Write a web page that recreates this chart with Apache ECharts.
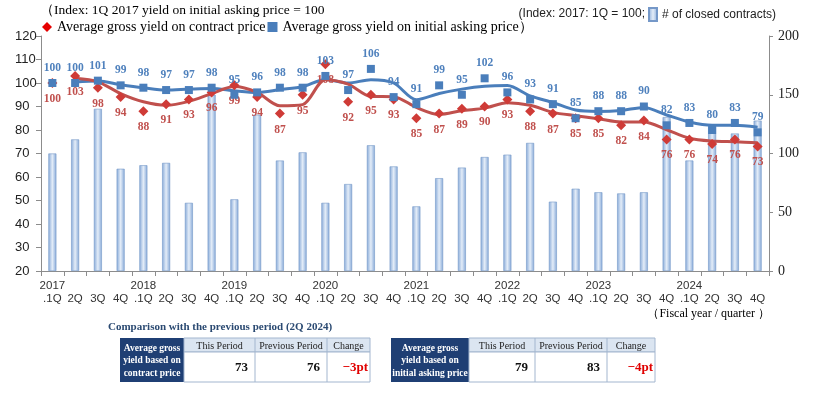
<!DOCTYPE html>
<html>
<head>
<meta charset="utf-8">
<script src="https://cdn.jsdelivr.net/npm/echarts@6/dist/echarts.min.js"></script>
<style>
  html, body { margin: 0; padding: 0; background: #fff; }
  #chart { width: 815px; height: 399px; }
</style>
</head>
<body>
<div id="chart"></div>
<script>
// quarters along the x axis (year shown on the 1Q tick only)
const categories = [
  '2017\n.1Q', '\n2Q', '\n3Q', '\n4Q',
  '2018\n.1Q', '\n2Q', '\n3Q', '\n4Q',
  '2019\n.1Q', '\n2Q', '\n3Q', '\n4Q',
  '2020\n.1Q', '\n2Q', '\n3Q', '\n4Q',
  '2021\n.1Q', '\n2Q', '\n3Q', '\n4Q',
  '2022\n.1Q', '\n2Q', '\n3Q', '\n4Q',
  '2023\n.1Q', '\n2Q', '\n3Q', '\n4Q',
  '2024\n.1Q', '\n2Q', '\n3Q', '\n4Q'
];

// # of closed contracts (right axis)
const closedContracts = [
  100, 112, 138, 87,
  90, 92, 58, 150,
  61, 133, 94, 101,
  58, 74, 107, 89,
  55, 79, 88, 97,
  99, 109, 59, 70,
  67, 66, 67, 131,
  94, 123, 117, 128
];

// index, yield on initial asking price (markers + labels)
const askingIndex = [
  100, 100, 101, 99,
  98, 97, 97, 98,
  95, 96, 98, 98,
  103, 97, 106, 94,
  91, 99, 95, 102,
  96, 93, 91, 85,
  88, 88, 90, 82,
  83, 80, 83, 79
];

// index, yield on contract price (markers + labels)
const contractIndex = [
  100, 103, 98, 94,
  88, 91, 93, 96,
  99, 94, 87, 95,
  108, 92, 95, 93,
  85, 87, 89, 90,
  93, 88, 87, 85,
  85, 82, 84, 76,
  76, 74, 76, 73
];

// trend lines
const askingTrend = [
  null, 100.4, 100.8, 99.3,
  98, 97, 97.4, 97.7,
  96.7, 96, 97.2, 98.4,
  101.5, 100, 101.4, 100,
  92.9, 95.5, 97.4, 98.6,
  98.9, 94.5, 91.7, 88.5,
  87.9, 88.3, 89.6, 86.4,
  83.4, 82, 82, 81.2
];
const contractTrend = [
  null, 102, 100.5, 95.5,
  92, 90.5, 92.2, 95.5,
  98.5, 96, 90.3, 90.8,
  101.4, 99.5, 94.3, 94.2,
  89.6, 86.6, 88.2, 89.3,
  91.6, 90.5, 87.5, 86.1,
  84.8, 83.4, 83.4, 80.1,
  76.5, 75.3, 75, 74.6
];

const leftTicks = [20, 120, 10];
const rightTicks = [0, 200, 50];

// comparison tables: this period, previous period, change (pt)
const tableHeaders = ['This Period', 'Previous Period', 'Change'];
const contractCompare = [73, 76, -3];
const askingCompare = [79, 83, -4];

const serif = '"Liberation Serif", "Times New Roman", serif';
const sans = '"Liberation Sans", Arial, sans-serif';

const NAME_CONTRACT = 'Average gross yield on contract price';
const NAME_ASKING = 'Average gross yield on initial asking price）';
const NAME_BARS = '# of closed contracts)';

const barFill = new echarts.graphic.LinearGradient(0, 0, 1, 0, [
  { offset: 0, color: '#86a9d8' },
  { offset: 0.5, color: '#e4edf8' },
  { offset: 1, color: '#86a9d8' }
]);

function compareTable(xs, title, values) {
  const top = 338, mid = 352, bottom = 382;
  const border = '#a3b6cf';
  const els = [
    { type: 'rect', shape: { x: xs[0], y: top, width: xs[1] - xs[0], height: bottom - top },
      style: { fill: '#1f3f74' } },
    { type: 'rect', shape: { x: xs[1], y: top, width: xs[4] - xs[1], height: mid - top },
      style: { fill: '#dbe5f1', stroke: border, lineWidth: 1 } },
    { type: 'rect', shape: { x: xs[1], y: mid, width: xs[4] - xs[1], height: bottom - mid },
      style: { fill: '#fff', stroke: border, lineWidth: 1 } },
    { type: 'text', x: (xs[0] + xs[1]) / 2, y: (top + bottom) / 2 + 1,
      style: { text: title, fill: '#fff', font: 'bold 9.5px ' + serif, align: 'center',
               verticalAlign: 'middle', lineHeight: 12.5 } }
  ];
  for (let i = 2; i <= 3; i++) {
    els.push({ type: 'line', shape: { x1: xs[i], y1: top, x2: xs[i], y2: bottom },
               style: { stroke: border, lineWidth: 1 } });
  }
  tableHeaders.forEach((h, i) => {
    els.push({ type: 'text', x: (xs[i + 1] + xs[i + 2]) / 2, y: (top + mid) / 2 + 1,
      style: { text: h, fill: '#222', font: '10px ' + serif, align: 'center', verticalAlign: 'middle' } });
  });
  values.forEach((v, i) => {
    const isChange = i === 2;
    const txt = isChange ? (v < 0 ? '−' : '+') + Math.abs(v) + 'pt' : String(v);
    els.push({ type: 'text', x: xs[i + 2] - (isChange ? 2 : 7), y: (mid + bottom) / 2 + 1,
      style: { text: txt, fill: isChange ? '#e00000' : '#111',
               font: 'bold 13px ' + serif, align: 'right', verticalAlign: 'middle' } });
  });
  return els;
}

const chart = echarts.init(document.getElementById('chart'), null, { renderer: 'canvas' });

chart.setOption({
  animation: false,
  backgroundColor: '#fff',
  grid: { left: 41, right: 46, top: 36, bottom: 128, containLabel: false },
  legend: [
    {
      left: 42, top: 20, itemWidth: 10, itemHeight: 10, itemGap: 2, padding: 0,
      textStyle: { fontFamily: serif, fontSize: 14, color: '#000' },
      data: [
        { name: NAME_CONTRACT, icon: 'diamond', itemStyle: { color: '#e60000' } },
        { name: NAME_ASKING, icon: 'rect', itemStyle: { color: '#4a7ebb' } }
      ]
    },
    {
      left: 648, top: 7, itemWidth: 8, itemHeight: 13, padding: 0,
      textStyle: { fontFamily: sans, fontSize: 12, color: '#222' },
      data: [{ name: NAME_BARS, icon: 'rect' }]
    }
  ],
  xAxis: {
    type: 'category',
    data: categories,
    boundaryGap: true,
    axisLine: { lineStyle: { color: '#8c8c8c', width: 1 } },
    axisTick: { show: true, length: 5, lineStyle: { color: '#8c8c8c' } },
    axisLabel: { interval: 0, margin: 8, fontFamily: sans, fontSize: 11.5,
                 lineHeight: 13, color: '#333', align: 'center' },
    splitLine: { show: false }
  },
  yAxis: [
    {
      type: 'value', min: leftTicks[0], max: leftTicks[1], interval: leftTicks[2],
      axisLine: { show: true, lineStyle: { color: '#8c8c8c' } },
      axisTick: { show: true, length: 5, lineStyle: { color: '#8c8c8c' } },
      axisLabel: { margin: 26, align: 'left', fontFamily: sans, fontSize: 13, color: '#222' },
      splitLine: { show: false }
    },
    {
      type: 'value', min: rightTicks[0], max: rightTicks[1], interval: rightTicks[2],
      position: 'right',
      axisLine: { show: true, lineStyle: { color: '#8c8c8c' } },
      axisTick: { show: true, length: 4, lineStyle: { color: '#8c8c8c' } },
      axisLabel: { margin: 9, fontFamily: serif, fontSize: 14, color: '#222' },
      splitLine: { show: false }
    }
  ],
  series: [
    {
      name: NAME_BARS, type: 'bar', yAxisIndex: 1, data: closedContracts, barWidth: 8, z: 1,
      itemStyle: { color: barFill, borderColor: '#7598c8', borderWidth: 0.6 }
    },
    {
      name: 'askingTrend', type: 'line', data: askingTrend, smooth: 0.3, showSymbol: false,
      symbol: 'none', z: 2, silent: true,
      lineStyle: { color: '#4a7ebb', width: 3 }
    },
    {
      name: 'contractTrend', type: 'line', data: contractTrend, smooth: 0.3, showSymbol: false,
      symbol: 'none', z: 3, silent: true,
      lineStyle: { color: '#c0504d', width: 3 }
    },
    {
      name: NAME_CONTRACT, type: 'scatter', data: contractIndex, symbol: 'diamond', symbolSize: 10, z: 4,
      itemStyle: { color: '#cf3b37', opacity: 1 },
      label: { show: true, position: 'bottom', distance: 5, color: '#c0504d',
               fontFamily: serif, fontWeight: 'bold', fontSize: 11.5 }
    },
    {
      name: NAME_ASKING, type: 'scatter', data: askingIndex, symbol: 'rect', symbolSize: 8, z: 5,
      itemStyle: { color: '#4a7ebb', opacity: 1 },
      label: { show: true, position: 'top', distance: 5, color: '#4f81bd',
               fontFamily: serif, fontWeight: 'bold', fontSize: 11.5 }
    }
  ],
  graphic: [
    { type: 'text', left: 40, top: 3,
      style: { text: '（Index: 1Q 2017 yield on initial asking price = 100', fill: '#000',
               font: '13.5px ' + serif } },
    { type: 'text', x: 645, y: 14,
      style: { text: '(Index: 2017: 1Q = 100;', fill: '#222', font: '12px ' + sans,
               align: 'right', verticalAlign: 'middle' } },
    { type: 'text', x: 770, y: 314,
      style: { text: '（Fiscal year / quarter ）', fill: '#000', font: '12px ' + serif,
               align: 'right', verticalAlign: 'middle' } },
    { type: 'text', x: 108, y: 327,
      style: { text: 'Comparison with the previous period (2Q 2024)', fill: '#2b4a72',
               font: 'bold 11px ' + serif, verticalAlign: 'middle' } }
  ]
    .concat(compareTable([120, 184, 255, 327, 370], 'Average gross\nyield based on\ncontract price', contractCompare))
    .concat(compareTable([391, 469, 535, 607, 655], 'Average gross\nyield based on\ninitial asking price', askingCompare))
});
</script>
</body>
</html>
